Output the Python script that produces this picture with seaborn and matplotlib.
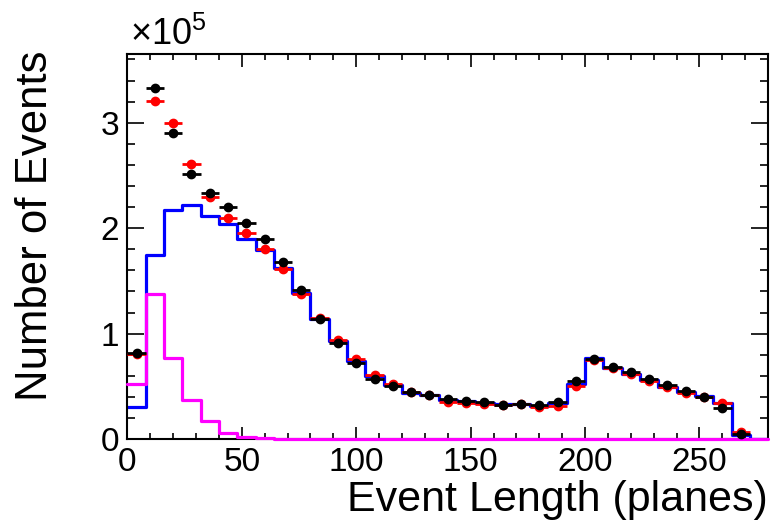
import numpy as np
import pandas as pd
import matplotlib
matplotlib.use("Agg")
import matplotlib.pyplot as plt
from matplotlib.ticker import MultipleLocator, FuncFormatter
import seaborn as sns

# Binning: 8-plane bins from 0 to 280
bin_edges = list(range(0, 288, 8))
bin_centers = [e + 4 for e in bin_edges[:-1]]

# Data (black points), one per bin up to 272
data_counts = [82000, 333000, 290000, 251000, 233000, 220000, 205000, 190000,
               168000, 141000, 114000, 91000, 72000, 57000, 50000, 44300,
               41800, 37700, 36400, 35100, 32300, 33000, 32300, 34800,
               55500, 76000, 68700, 63300, 57000, 51300, 45900, 40000,
               29700, 4700]

# Total simulation (red points)
mc_counts = [81000, 321000, 300000, 261000, 230000, 210000, 195000, 180000,
             161000, 138000, 114600, 94000, 75700, 60800, 52200, 45000,
             42000, 35400, 34500, 33000, 32000, 33000, 30000, 31300,
             50300, 75500, 67100, 61400, 55400, 49700, 44000, 40000,
             34500, 7000]

# Blue component histogram
blue_counts = [30700, 175000, 217000, 222000, 212000, 204000, 190000, 179500,
               162000, 139000, 113700, 93000, 74000, 59800, 51300, 43400,
               41800, 37000, 36000, 34000, 33000, 33000, 31600, 34500,
               52500, 76600, 67000, 61400, 56000, 49700, 45000, 41000,
               34000, 4000, 0]

# Magenta component histogram
magenta_counts = [52000, 138000, 77000, 37000, 17000, 6000, 2500, 1000,
                  0, 0, 0, 0, 0, 0, 0, 0, 0, 0, 0, 0, 0, 0, 0, 0,
                  0, 0, 0, 0, 0, 0, 0, 0, 0, 0, 0]

x_ticks = [0, 50, 100, 150, 200, 250]
y_ticks = [0, 100000, 200000, 300000]

sns.set_theme(style="ticks")
plt.rcParams["font.family"] = ["Liberation Sans", "DejaVu Sans"]
plt.rcParams["mathtext.fontset"] = "custom"
plt.rcParams["mathtext.rm"] = "Liberation Sans"
plt.rcParams["text.color"] = "black"
plt.rcParams["axes.labelcolor"] = "black"

fig = plt.figure(figsize=(7.72, 5.31), dpi=100)
ax = fig.add_axes([0.165, 0.173, 0.83, 0.725])

hist_df = pd.DataFrame({"center": bin_centers,
                        "blue": blue_counts,
                        "magenta": magenta_counts})

sns.histplot(data=hist_df, x="center", weights="blue", bins=bin_edges,
             element="step", fill=False, color="#0000ff", linewidth=2.3,
             ax=ax, zorder=2)
sns.histplot(data=hist_df, x="center", weights="magenta", bins=bin_edges,
             element="step", fill=False, color="#ff00ff", linewidth=2.3,
             ax=ax, zorder=3, clip_on=False)

n_pts = len(data_counts)
pt_x = bin_centers[:n_pts]
ax.errorbar(pt_x, mc_counts, xerr=4, fmt="o", color="#ff0000",
            markersize=6, elinewidth=2.0, capsize=0, zorder=4)
ax.errorbar(pt_x, data_counts, xerr=4, fmt="o", color="black",
            markersize=6, elinewidth=2.0, capsize=0, zorder=5)

ax.set_xlim(0, 280)
ax.set_ylim(0, 365000)
ax.set_xticks(x_ticks)
ax.set_yticks(y_ticks)
ax.xaxis.set_minor_locator(MultipleLocator(10))
ax.yaxis.set_minor_locator(MultipleLocator(20000))
ax.yaxis.set_major_formatter(FuncFormatter(lambda v, p: f"{v / 1e5:g}"))

ax.tick_params(axis="both", which="both", direction="in",
               top=True, right=True, width=1.2, colors="black")
ax.tick_params(axis="x", which="major", length=9, labelsize=24, pad=6)
ax.tick_params(axis="x", which="minor", length=4)
ax.tick_params(axis="y", which="major", length=12, labelsize=24, pad=6)
ax.tick_params(axis="y", which="minor", length=6)

for s in ax.spines.values():
    s.set_linewidth(1.5)
    s.set_color("black")
    s.set_visible(True)

ax.set_xlabel("Event Length (planes)", fontsize=31, loc="right", labelpad=1)
ax.set_ylabel("Number of Events", fontsize=31.5, loc="top", labelpad=32)
ax.yaxis.label.set_y(1.01)

fig.text(130 / 772, 1 - 45 / 531, r"$\times10^{5}$", fontsize=26,
         ha="left", va="baseline")

fig.savefig("out.png", dpi=100)
